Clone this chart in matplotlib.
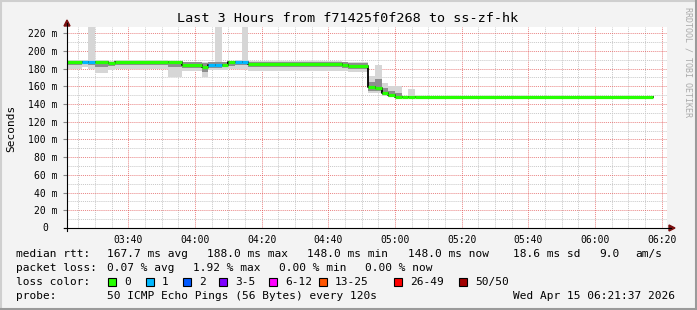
import matplotlib
matplotlib.use("Agg")
import matplotlib.pyplot as plt
from matplotlib.patches import Rectangle, Polygon
from matplotlib.lines import Line2D
import numpy as np

# minutes after 03:00, each step starts at seg_start and runs to the next one
seg_start = [20, 26, 28, 30, 34, 36, 52, 56, 62, 64, 66, 68, 70, 72, 74, 76,
             104, 106, 112, 114, 116, 118, 120, 122, 124, 126]
last_time = 197.5
median = [187, 187.5, 187, 187, 186, 187, 187, 184, 182, 184, 184, 184.5, 187, 187.5,
          187.5, 185.5, 184, 183.5, 158.7, 157.8, 152, 150, 148.5, 148, 148, 148]
loss = [0, 1, 1, 0, 0, 0, 0, 0, 0, 1, 1, 0, 0, 1, 1, 0, 0, 0, 0, 0, 0, 0, 0, 0, 0, 0]
smoke_hi_out = [190, 190, 240, 190, 189, 190, 189, 188, 187, 188, 240, 188, 189, 190,
                240, 189, 188, 187, 172, 184, 164, 160, 160, 148, 157, 148]
smoke_hi_in = [189, 189, 189, 189, 188, 189, 188, 187, 186, 187, 187, 187, 188, 189,
               189, 188, 187, 186, 165, 168, 158, 155, 152, 148, 149, 148]
smoke_lo_in = [184, 185, 184, 182, 183, 184, 182, 181, 176, 181, 181, 182, 183, 184,
               184, 182, 181, 180, 155, 155, 150, 148.5, 148, 148, 148, 148]
smoke_lo_out = [180, 182, 180, 175, 178, 180, 170, 177, 170, 178, 178, 178, 180, 180,
                180, 177, 177, 176, 153, 153, 149, 148, 148, 148, 148, 148]

loss_labels = ["0", "1", "2", "3-5", "6-12", "13-25", "26-49", "50/50"]
loss_colors = ["#26ff00", "#00b8ff", "#0059ff", "#7e00ff", "#ff00ff", "#ff5500",
               "#ff0000", "#a10000"]
x_ticks = [40, 60, 80, 100, 120, 140, 160, 180, 200]
y_ticks = [0, 20, 40, 60, 80, 100, 120, 140, 160, 180, 200, 220]

title = "Last 3 Hours from f71425f0f268 to ss-zf-hk"
rtt_line = ["median rtt:", "167.7 ms avg", "188.0 ms max", "148.0 ms min",
            "148.0 ms now", "18.6 ms sd", "9.0", "am/s"]
loss_line = ["packet loss:", "0.07 % avg", "1.92 % max", "0.00 % min", "0.00 % now"]
probe_text = "50 ICMP Echo Pings (56 Bytes) every 120s"
date_text = "Wed Apr 15 06:21:37 2026"

W, H = 697, 310
mono = "DejaVu Sans Mono"


def px(x, y):
    return x / W, 1 - y / H


fig = plt.figure(figsize=(W / 100, H / 100), dpi=100, facecolor="#f3f3f3")
ax = fig.add_axes([67 / W, 1 - 228 / H, 600 / W, 201 / H])
ax.set_facecolor("white")

xs = seg_start + [last_time]
def ext(a):
    return a + [a[-1]]

ax.fill_between(xs, ext(smoke_lo_out), ext(smoke_hi_out), step="post", color="#d6d6d6", lw=0)
ax.fill_between(xs, ext(smoke_lo_in), ext(smoke_hi_in), step="post", color="#8e8e8e", lw=0)
ax.step(xs, ext(median), where="post", color="black", lw=1.3)
for i in range(len(seg_start)):
    ax.hlines(median[i], xs[i], xs[i + 1], color=loss_colors[loss[i]], lw=2.3)

ax.set_xlim(21.617, 201.617)
ax.set_ylim(0, 227)

# grid
for v in np.arange(25, 201, 5):
    ax.axvline(v, color="#e05050" if v % 20 == 0 else "#c8c8c8", lw=0.7,
               ls=(0, (1, 1)), zorder=0.5, alpha=0.7 if v % 20 == 0 else 1)
for v in np.arange(10, 227, 10):
    ax.axhline(v, color="#e05050" if v % 20 == 0 else "#c8c8c8", lw=0.7,
               ls=(0, (1, 1)), zorder=0.5, alpha=0.7 if v % 20 == 0 else 1)

for s in ax.spines.values():
    s.set_visible(False)
ax.set_xticks(x_ticks)
ax.set_xticklabels(["%02d:%02d" % (3 + t // 60, t % 60) for t in x_ticks])
ax.set_yticks(y_ticks)
ax.set_yticklabels(["" if v == 0 else "%d m" % v for v in y_ticks])
ax.tick_params(axis="x", length=0, pad=5, labelsize=7)
ax.tick_params(axis="y", length=3, color="#888888", pad=4, labelsize=7)
for lab in ax.get_xticklabels() + ax.get_yticklabels():
    lab.set_family(mono)
fig.text(*px(48, 228), "0", family=mono, fontsize=7, ha="right", va="center")

# axes with arrows
ax_col = "#7a1010"
fig.add_artist(Line2D([px(67, 0)[0]] * 2, [px(0, 231)[1], px(0, 23)[1]], color="black", lw=0.8))
fig.add_artist(Line2D([px(64, 0)[0], px(671, 0)[0]], [px(0, 228)[1]] * 2, color="black", lw=0.8))
fig.add_artist(Polygon([px(64, 26), px(70, 26), px(67, 20)], closed=True, color=ax_col))
fig.add_artist(Polygon([px(669, 225), px(669, 231), px(675, 228)], closed=True, color=ax_col))

# frame
fig.add_artist(Line2D([0, 1], [1 - 1 / H] * 2, color="#cfcfcf", lw=1.5))
fig.add_artist(Line2D([1 / W] * 2, [0, 1], color="#cfcfcf", lw=1.5))
fig.add_artist(Line2D([0, 1], [1 / H] * 2, color="#9a9a9a", lw=1.5))
fig.add_artist(Line2D([1 - 1 / W] * 2, [0, 1], color="#9a9a9a", lw=1.5))

fig.text(*px(348, 19), title, family=mono, fontsize=9.7, ha="center", va="center")
fig.text(*px(11, 128), "Seconds", family=mono, fontsize=8, rotation=90,
         ha="center", va="center")
fig.text(*px(688, 62), "RRDTOOL / TOBI OETIKER", family=mono, fontsize=6,
         rotation=270, ha="center", va="center", color="#aaaaaa")

fs = 8
for x, t in zip([16, 107, 207, 307, 408, 513, 599, 635], rtt_line):
    fig.text(*px(x, 254), t, family=mono, fontsize=fs, va="center")
for x, t in zip([16, 107, 193, 279, 365], loss_line):
    fig.text(*px(x, 268), t, family=mono, fontsize=fs, va="center")
fig.text(*px(16, 282), "loss color:", family=mono, fontsize=fs, va="center")
for x, lab, col in zip([108, 146, 183, 219, 269, 319, 394, 459], loss_labels, loss_colors):
    fig.add_artist(Rectangle(px(x, 286), 8 / W, 8 / H, facecolor=col,
                             edgecolor="black", lw=0.8))
    fig.text(*px(x + 16, 282), lab, family=mono, fontsize=fs, va="center")
fig.text(*px(16, 296), "probe:", family=mono, fontsize=fs, va="center")
fig.text(*px(107, 296), probe_text, family=mono, fontsize=fs, va="center")
fig.text(*px(513, 296), date_text, family=mono, fontsize=fs, va="center")

fig.savefig("out.png", dpi=100, facecolor=fig.get_facecolor())
